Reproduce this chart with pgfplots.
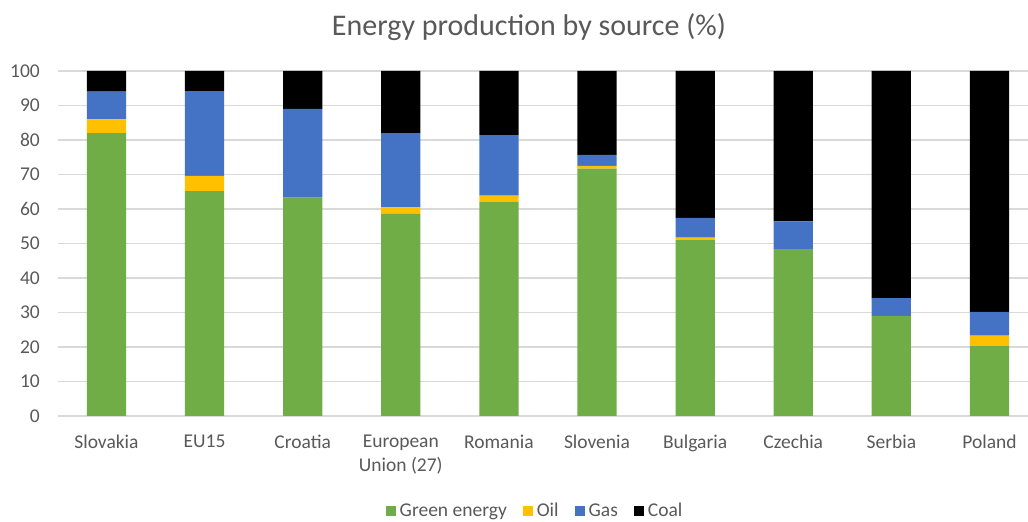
\documentclass[border=0pt]{standalone}
\usepackage{pgfplots}
\pgfplotsset{compat=1.18}
\usepackage{fontspec}
\setmainfont{Carlito}

\definecolor{green}{HTML}{70AD47}
\definecolor{oil}{HTML}{FFC000}
\definecolor{gas}{HTML}{4472C4}
\definecolor{coal}{HTML}{000000}
\definecolor{txt}{HTML}{595959}
\definecolor{gridc}{HTML}{D9D9D9}

\begin{document}
\begin{tikzpicture}[x=1pt,y=1pt]
\useasboundingbox (0,0) rectangle (1028,522);
\node[text=txt, font=\fontsize{30}{34}\selectfont, anchor=base] at (529,486) {Energy production by source (\%)};
\begin{axis}[
  at={(58pt,106pt)}, anchor=south west,
  scale only axis, width=970pt, height=345pt,
  ybar stacked, bar width=0.4,
  xmin=-0.494, xmax=9.393, ymin=0, ymax=100,
  xtick={0,...,9},
  xticklabels={Slovakia,EU15,Croatia,{European\\Union (27)},Romania,Slovenia,Bulgaria,Czechia,Serbia,Poland},
  ytick={0,10,...,100},
  major tick length=0pt,
  axis line style={draw=none},
  ymajorgrids, grid style={gridc, line width=1.2pt},
  tick label style={text=txt, font=\fontsize{19.5}{24}\selectfont},
  xticklabel style={align=center, anchor=north, inner sep=0pt, yshift=-19pt},
  yticklabel style={anchor=east, inner sep=0pt, xshift=-18pt},
  /pgf/number format/assume math mode=true,
  legend columns=4,
  legend style={draw=none, fill=none, at={(rel axis cs:0.4918,-0.275)}, anchor=center,
    font=\fontsize{19.5}{22}\selectfont, text=txt,
    /tikz/every odd column/.append style={column sep=2pt},
    /tikz/every even column/.append style={column sep=14pt}},
  legend image code/.code={\fill[#1] (0pt,-5pt) rectangle (10pt,5pt);},
]
\addplot[fill=green, draw=none] coordinates {(0,82.0) (1,65.2) (2,63.3) (3,58.6) (4,62.0) (5,71.7) (6,51.0) (7,48.4) (8,29.0) (9,20.4)};
\addplot[fill=oil, draw=none] coordinates {(0,4.0) (1,4.4) (2,0) (3,1.9) (4,1.9) (5,0.8) (6,0.7) (7,0) (8,0) (9,2.9)};
\addplot[fill=gas, draw=none] coordinates {(0,8.0) (1,24.6) (2,25.7) (3,21.5) (4,17.5) (5,3.2) (6,5.7) (7,8.0) (8,5.2) (9,6.9)};
\addplot[fill=coal, draw=none] coordinates {(0,6.0) (1,5.8) (2,11.0) (3,18.0) (4,18.6) (5,24.3) (6,42.6) (7,43.6) (8,65.8) (9,69.8)};
\legend{Green energy, Oil, Gas, Coal}
\end{axis}
\end{tikzpicture}
\end{document}
